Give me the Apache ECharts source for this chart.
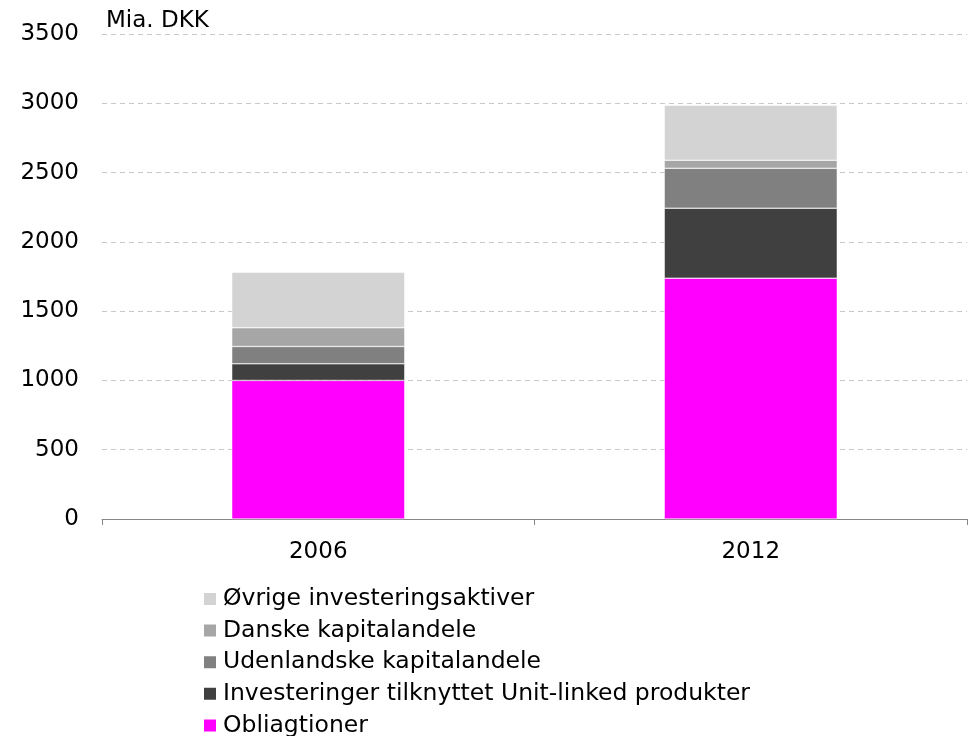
<!DOCTYPE html>
<html>
<head>
<meta charset="utf-8">
<script src="https://cdn.jsdelivr.net/npm/echarts@6/dist/echarts.min.js"></script>
<style>
    html, body { margin: 0; padding: 0; background: #fff; }
    #chart { width: 978px; height: 736px; }
</style>
</head>
<body>
<div id="chart"></div>
<script>
    // data (Mia. DKK)
    const years = ['2006', '2012'];
    const obligationer = [1000, 1738];
    const unitLinked = [120, 505];
    const udenlandske = [125, 288];
    const danske = [135, 58];
    const oevrige = [400, 396];
    const yTicks = [0, 500, 1000, 1500, 2000, 2500, 3000, 3500];

    const font = 'DejaVu Sans';
    const chart = echarts.init(document.getElementById('chart'));

    function bar(name, data, color) {
        return {
            name: name,
            type: 'bar',
            stack: 'total',
            barWidth: '40%',
            data: data,
            itemStyle: { color: color, borderColor: '#fff', borderWidth: 0.5 }
        };
    }

    chart.setOption({
        backgroundColor: '#fff',
        animation: false,
        textStyle: { fontFamily: font },
        grid: { left: 102, right: 11, top: 34, bottom: 217 },
        legend: {
            orient: 'vertical',
            left: 197,
            top: 582,
            height: 160,
            itemWidth: 14,
            itemHeight: 14,
            itemGap: 7.6,
            icon: 'rect',
            textStyle: { fontFamily: font, fontSize: 23.5, lineHeight: 24, color: '#000', padding: [0, 0, 0, 1] },
            data: ['Øvrige investeringsaktiver', 'Danske kapitalandele', 'Udenlandske kapitalandele',
                   'Investeringer tilknyttet Unit-linked produkter', 'Obliagtioner']
        },
        xAxis: {
            type: 'category',
            data: years,
            axisLine: { lineStyle: { color: '#888', width: 1 } },
            axisTick: { show: true, length: 6, lineStyle: { color: '#888' } },
            axisLabel: { color: '#000', fontSize: 23, margin: 22, fontFamily: font }
        },
        yAxis: {
            type: 'value',
            min: yTicks[0],
            max: yTicks[yTicks.length - 1],
            interval: 500,
            name: 'Mia. DKK',
            nameLocation: 'end',
            nameGap: 1,
            nameTextStyle: { color: '#000', fontSize: 23, align: 'left', padding: [0, 0, 0, 4], fontFamily: font },
            axisLine: { show: false },
            axisTick: { show: false },
            axisLabel: { color: '#000', fontSize: 23, margin: 23, fontFamily: font, formatter: v => String(v) },
            splitLine: { lineStyle: { color: '#c8c8c8', type: [5, 4] } }
        },
        series: [
            bar('Obliagtioner', obligationer, '#ff00ff'),
            bar('Investeringer tilknyttet Unit-linked produkter', unitLinked, '#404040'),
            bar('Udenlandske kapitalandele', udenlandske, '#808080'),
            bar('Danske kapitalandele', danske, '#a6a6a6'),
            bar('Øvrige investeringsaktiver', oevrige, '#d3d3d3')
        ]
    });
</script>
</body>
</html>
